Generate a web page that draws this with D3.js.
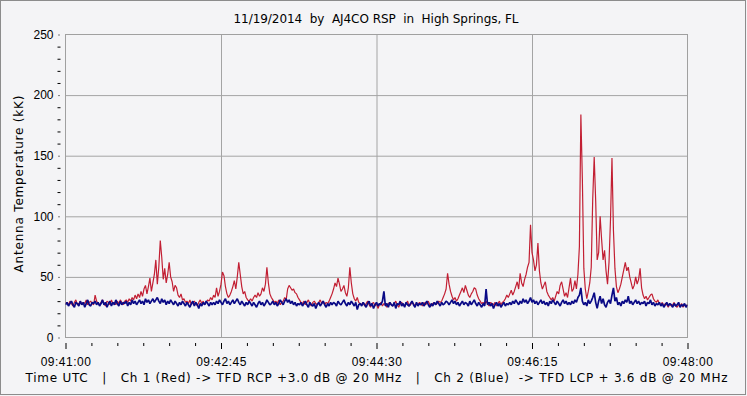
<!DOCTYPE html>
<html>
<head>
<meta charset="utf-8">
<script src="https://cdn.jsdelivr.net/npm/d3@7"></script>
<style>
  html, body { margin: 0; padding: 0; background: #f4f4f6; }
  svg { display: block; font-family: "DejaVu Sans", Verdana, sans-serif; }
  .axis path { display: none; }
  .axis text { font-size: 12px; fill: #000; }
</style>
</head>
<body>
<div id="chart"></div>
<script>
// Chart texts
const title = "11/19/2014  by  AJ4CO RSP  in  High Springs, FL";
const yTitle = "Antenna Temperature (kK)";
const footer = "Time UTC   |   Ch 1 (Red) -> TFD RCP +3.0 dB @ 20 MHz   |   Ch 2 (Blue)  -> TFD LCP + 3.6 dB @ 20 MHz";

// Axis ticks
const xTickLabels = ["09:41:00", "09:42:45", "09:44:30", "09:46:15", "09:48:00"];
const yTickValues = [0, 50, 100, 150, 200, 250];

// One sample per second, starting at 09:41:00
const sampleStep = 1;

// Ch 1 (red), kK
const redValues = [
  28,29,27,30,28,26,29,31,27,28,30,27,29,28,31,27,29,30,28,27,
  35,30,28,27,29,31,28,26,30,29,27,31,28,29,27,30,28,31,29,27,
  30,31,29,32,30,33,31,35,32,36,33,38,34,40,43,36,42,49,38,45,
  52,64,44,58,80,66,48,57,45,52,62,50,46,38,43,41,35,33,36,31,
  32,29,30,28,31,27,29,30,28,26,29,31,28,30,27,29,31,30,33,31,
  35,33,41,34,38,44,54,51,42,36,33,35,38,42,47,40,50,62,52,42,
  36,38,33,31,30,32,30,33,35,33,37,34,36,41,38,44,58,45,36,33,
  31,29,30,28,31,27,29,30,33,31,40,43,41,39,40,37,36,33,31,29,
  28,30,27,29,31,28,26,29,30,28,27,29,31,28,30,27,29,28,30,33,
  36,40,45,42,49,44,38,40,43,37,34,41,58,45,36,32,30,33,29,28,
  27,29,26,28,30,27,25,28,29,26,28,24,27,29,26,28,27,25,28,29,
  27,26,28,30,27,25,28,29,27,26,28,30,26,27,29,28,26,28,27,29,
  28,26,29,27,28,30,27,26,28,29,27,28,30,29,30,33,36,40,53,44,
  38,34,31,33,30,32,35,38,41,37,43,39,35,33,36,38,41,40,35,32,
  30,28,29,27,30,28,26,29,28,27,29,26,28,30,27,29,30,32,35,33,
  36,39,35,38,42,46,40,53,45,42,48,52,58,62,93,70,64,55,60,78,
  55,45,40,43,46,38,35,33,31,33,30,34,38,36,43,46,40,34,37,33,
  41,49,38,40,47,40,52,75,184,131,57,40,32,38,45,58,114,149,113,64,
  70,100,81,64,72,55,44,62,97,148,88,57,42,37,40,44,50,56,62,55,
  58,50,45,40,43,50,44,48,57,41,35,32,34,31,33,35,36,32,30,29,
  31,28,27,29,26,28,27,25,28,26,27,29,26,25,27,26,28,25,27,26,27
];

// Ch 2 (blue), kK
const blueValues = [
  27,29,26,28,30,27,25,29,28,26,30,27,29,25,28,31,27,26,29,28,
  30,27,29,26,28,31,27,29,25,28,30,26,29,27,31,28,26,30,27,29,
  28,30,26,29,27,31,28,30,27,29,31,28,30,27,32,29,31,28,30,32,
  29,31,33,30,28,32,29,31,27,30,28,31,29,27,30,28,26,29,27,30,
  28,26,29,27,25,28,30,26,29,27,24,28,26,29,27,30,28,26,29,27,
  29,27,30,28,31,29,27,30,32,28,30,27,29,31,28,30,32,29,27,30,
  28,26,29,27,30,28,26,29,27,25,28,30,27,29,26,28,31,29,27,28,
  30,27,29,26,28,31,29,27,30,32,29,31,28,30,27,29,26,28,27,29,
  26,28,30,27,25,29,27,26,28,24,27,29,26,28,30,27,25,28,26,29,
  27,29,28,26,30,28,27,29,31,28,26,29,27,30,28,26,29,23,27,28,
  26,29,27,25,28,30,26,28,24,27,29,26,28,27,30,38,26,28,25,29,
  27,26,29,24,28,27,30,26,28,25,29,27,26,28,30,27,25,29,26,28,
  27,29,26,28,30,27,25,28,26,29,27,30,28,26,29,27,28,30,29,27,
  29,31,28,30,27,29,26,28,30,27,29,28,26,30,27,29,31,28,26,29,
  27,25,28,26,40,27,29,26,28,24,27,29,26,28,25,27,29,26,28,27,
  29,27,30,28,31,29,27,30,28,32,29,31,28,30,33,29,31,28,30,27,
  29,31,28,30,27,29,26,30,28,31,29,27,30,28,26,29,31,28,30,27,
  29,27,30,28,31,29,33,35,41,30,27,29,26,31,28,30,33,37,29,24,
  30,34,28,32,27,25,29,31,28,35,41,30,33,27,29,26,30,28,31,29,
  34,28,30,27,29,31,28,30,27,29,28,30,26,29,28,31,27,29,26,28,
  27,29,26,28,25,27,29,26,28,27,25,28,26,27,29,25,27,26,28,25,27
];

const width = 747;
const height = 396;
const margin = { top: 34.5, right: 59.5, bottom: 58.5, left: 65.5 };
const innerWidth = width - margin.left - margin.right;
const innerHeight = height - margin.top - margin.bottom;

const toSeconds = s => {
  const [h, m, sec] = s.split(":").map(Number);
  return h * 3600 + m * 60 + sec;
};
const startSec = toSeconds(xTickLabels[0]);
const xTickValues = xTickLabels.map(l => toSeconds(l) - startSec);

/*******************************/
/*    Append the containers    */
/*******************************/
const svg = d3.select("#chart")
  .append("svg")
    .attr("width", width)
    .attr("height", height);

// Window frame
svg.append("rect")
  .attr("x", 0.5).attr("y", 0.5)
  .attr("width", width - 2).attr("height", height - 2)
  .attr("fill", "#f4f4f6")
  .attr("stroke", "#8c8c8c");

const innerChart = svg
  .append("g")
    .attr("transform", `translate(${margin.left}, ${margin.top})`);

/****************************/
/*    Declare the scales    */
/****************************/
const xScale = d3.scaleLinear()
  .domain(d3.extent(xTickValues))
  .range([0, innerWidth]);

const yScale = d3.scaleLinear()
  .domain([0, 250])
  .range([innerHeight, 0]);

/***************************/
/*     Grid and border     */
/***************************/
innerChart.append("g")
  .attr("class", "grid-y")
  .call(d3.axisLeft(yScale).tickValues(yTickValues.slice(1, -1)).tickSize(-innerWidth).tickFormat(""))
  .call(g => g.select(".domain").remove())
  .selectAll("line").attr("stroke", "#a4a4a4");

innerChart.append("g")
  .attr("class", "grid-x")
  .call(d3.axisBottom(xScale).tickValues(xTickValues.slice(1, -1)).tickSize(innerHeight).tickFormat(""))
  .call(g => g.select(".domain").remove())
  .selectAll("line").attr("stroke", "#a4a4a4");

innerChart.append("rect")
  .attr("width", innerWidth)
  .attr("height", innerHeight)
  .attr("fill", "none")
  .attr("stroke", "#a0a0a0");

/***************************/
/*     Append the axes     */
/***************************/
// Left axis: labels + dot ticks
innerChart.append("g")
  .attr("class", "axis axis-y")
  .attr("transform", "translate(-6, 0)")
  .call(d3.axisLeft(yScale).tickValues(yTickValues).tickSize(1).tickPadding(5));

// Left minor ticks every 10
innerChart.append("g")
  .attr("class", "axis axis-y-minor")
  .attr("transform", "translate(-5, 0)")
  .call(d3.axisLeft(yScale)
    .tickValues(d3.range(0, 251, 10).filter(v => v % 50 !== 0))
    .tickSize(3).tickFormat(""));

// Bottom axis
innerChart.append("g")
  .attr("class", "axis axis-x")
  .attr("transform", `translate(0, ${innerHeight + 5.5})`)
  .call(d3.axisBottom(xScale)
    .tickValues(xTickValues)
    .tickSize(6).tickPadding(8)
    .tickFormat((d, i) => xTickLabels[i]))
  .selectAll("text").attr("letter-spacing", "0.5px");

// Bottom minor ticks
const minorStep = (xTickValues[1] - xTickValues[0]) / 6;
innerChart.append("g")
  .attr("class", "axis axis-x-minor")
  .attr("transform", `translate(0, ${innerHeight + 5.5})`)
  .call(d3.axisBottom(xScale)
    .tickValues(d3.range(0, xTickValues[xTickValues.length - 1], minorStep).filter((v, i) => i % 6 !== 0))
    .tickSize(3).tickFormat(""));

innerChart.selectAll(".axis line").attr("stroke", "#000");

/**************************/
/*     Draw the lines     */
/**************************/
svg.append("clipPath")
  .attr("id", "plot-clip")
  .append("rect")
    .attr("width", innerWidth)
    .attr("height", innerHeight);

const lineGenerator = d3.line()
  .x((d, i) => xScale(i * sampleStep))
  .y(d => yScale(d));

const plot = innerChart.append("g").attr("clip-path", "url(#plot-clip)");

plot.append("path")
  .attr("d", lineGenerator(redValues))
  .attr("fill", "none")
  .attr("stroke", "#c21f33")
  .attr("stroke-width", 1.2)
  .attr("stroke-linejoin", "bevel");

plot.append("path")
  .attr("d", lineGenerator(blueValues))
  .attr("fill", "none")
  .attr("stroke", "#0a0a86")
  .attr("stroke-width", 1.7)
  .attr("stroke-linejoin", "bevel");

/**************************/
/*        Texts           */
/**************************/
svg.append("text")
  .attr("x", 376)
  .attr("y", 23)
  .attr("text-anchor", "middle")
  .attr("font-size", "12px")
  .attr("textLength", 285)
  .style("white-space", "pre")
  .text(title);

svg.append("text")
  .attr("transform", "translate(23, 184) rotate(-90)")
  .attr("text-anchor", "middle")
  .attr("font-size", "12px")
  .attr("textLength", 177)
  .text(yTitle);

svg.append("text")
  .attr("x", 25.5)
  .attr("y", 382)
  .attr("font-size", "12px")
  .attr("textLength", 702)
  .style("white-space", "pre")
  .text(footer);
</script>
</body>
</html>
